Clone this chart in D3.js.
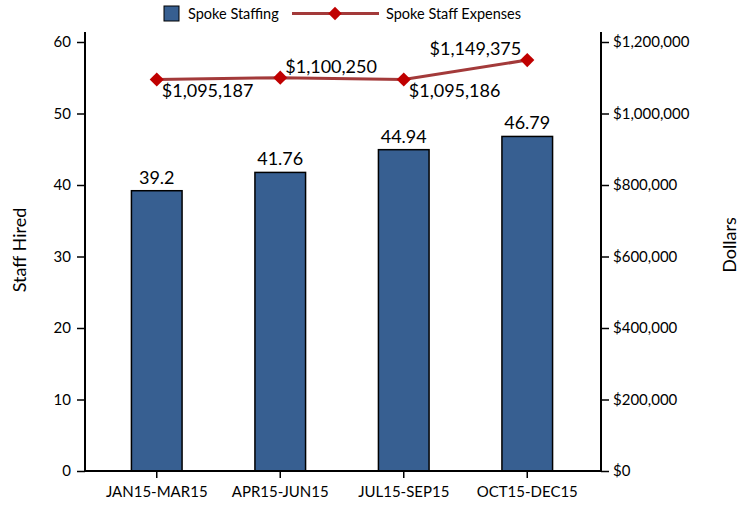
<!DOCTYPE html>
<html>
<head>
<meta charset="utf-8">
<script src="https://cdn.jsdelivr.net/npm/d3@7"></script>
<style>
  body { margin: 0; background: #fff; }
  svg { font-family: Lato, "Open Sans", sans-serif; }
</style>
</head>
<body>
<div id="chart"></div>
<script>
"use strict";

var quarters = ["JAN15-MAR15", "APR15-JUN15", "JUL15-SEP15", "OCT15-DEC15"];
var staffing = [39.2, 41.76, 44.94, 46.79];
var expenses = [1095187, 1100250, 1095186, 1149375];
// where each expense label sits relative to its point
var expenseLabelPos = ["below", "above", "below", "aboveLeft"];
var leftTicks = [0, 10, 20, 30, 40, 50, 60];
var rightTicks = [0, 200000, 400000, 600000, 800000, 1000000, 1200000];

var width = 752, height = 507,
  margin = { top: 42, right: 151, bottom: 36, left: 85 };

var barColor = "#375f91", lineColor = "#a33a3a", markerColor = "#c00000";

var svg = d3.select("#chart").append("svg")
  .attr("width", width).attr("height", height);

var x = d3.scaleBand().domain(quarters)
  .range([margin.left + 10, width - margin.right - 12]).paddingInner(0.59).paddingOuter(0.295);
var y = d3.scaleLinear().domain([0, 60]).range([height - margin.bottom, margin.top]);
var y2 = d3.scaleLinear().domain([0, 1200000]).range([height - margin.bottom, margin.top]);

var money = d3.format("$,");

// bars
svg.append("g").selectAll("rect").data(staffing).join("rect")
  .attr("x", (d, i) => x(quarters[i]))
  .attr("y", d => y(d))
  .attr("width", x.bandwidth())
  .attr("height", d => y(0) - y(d))
  .attr("fill", barColor)
  .attr("stroke", "#000").attr("stroke-width", 1.5);

svg.append("g").selectAll("text").data(staffing).join("text")
  .attr("x", (d, i) => x(quarters[i]) + x.bandwidth() / 2)
  .attr("y", d => y(d) - 7)
  .attr("text-anchor", "middle")
  .attr("font-size", 18)
  .text(d => d);

// axes
var axisLeft = svg.append("g").attr("transform", `translate(${margin.left},0)`)
  .call(d3.axisLeft(y).tickValues(leftTicks).tickSize(8).tickPadding(6));
var axisRight = svg.append("g").attr("transform", `translate(${width - margin.right},0)`)
  .call(d3.axisRight(y2).tickValues(rightTicks).tickSize(8).tickPadding(4).tickFormat(money));
var axisBottom = svg.append("g").attr("transform", `translate(0,${y(0)})`)
  .call(d3.axisBottom(x).tickSize(7).tickPadding(8).tickSizeOuter(0));

[axisLeft, axisRight, axisBottom].forEach(function (g) {
  g.selectAll(".domain").attr("stroke", "#000").attr("stroke-width", 2);
  g.selectAll(".tick line").attr("stroke", "#000").attr("stroke-width", 1.5);
  g.selectAll(".tick text").attr("font-size", 15).attr("fill", "#000")
    .attr("font-family", "Lato, 'Open Sans', sans-serif");
});
axisLeft.select(".domain").attr("d", `M0,${margin.top - 10}V${y(0)}`);
axisRight.select(".domain").attr("d", `M0,${margin.top - 10}V${y(0)}`);
axisBottom.select(".domain").attr("d", `M${margin.left},0H${width - margin.right}`);

// line
var cx = (d, i) => x(quarters[i]) + x.bandwidth() / 2;
svg.append("path").datum(expenses)
  .attr("fill", "none").attr("stroke", lineColor).attr("stroke-width", 3)
  .attr("d", d3.line().x(cx).y(d => y2(d)));

svg.append("g").selectAll("path").data(expenses).join("path")
  .attr("d", d3.symbol(d3.symbolSquare, 100)())
  .attr("transform", (d, i) => `translate(${cx(d, i)},${y2(d)}) rotate(45)`)
  .attr("fill", markerColor);

svg.append("g").selectAll("text").data(expenses).join("text")
  .attr("x", function (d, i) {
    var p = expenseLabelPos[i];
    return p === "aboveLeft" ? cx(d, i) - 6 : cx(d, i) + 5;
  })
  .attr("y", function (d, i) {
    var p = expenseLabelPos[i];
    return p === "below" ? y2(d) + 18 : y2(d) - 5;
  })
  .attr("text-anchor", (d, i) => expenseLabelPos[i] === "aboveLeft" ? "end" : "start")
  .attr("font-size", 18)
  .text(d => money(d));

// axis titles
svg.append("text")
  .attr("transform", "translate(26,250) rotate(-90)")
  .attr("text-anchor", "middle").attr("font-size", 18)
  .text("Staff Hired");
svg.append("text")
  .attr("transform", "translate(736,245) rotate(-90)")
  .attr("text-anchor", "middle").attr("font-size", 18)
  .text("Dollars");

// legend
var legend = svg.append("g").attr("font-size", 14.5);
legend.append("rect").attr("x", 164).attr("y", 6).attr("width", 15).attr("height", 15)
  .attr("fill", barColor).attr("stroke", "#000").attr("stroke-width", 1);
legend.append("text").attr("x", 188).attr("y", 18.5).text("Spoke Staffing");
legend.append("line").attr("x1", 292).attr("x2", 379).attr("y1", 13.5).attr("y2", 13.5)
  .attr("stroke", lineColor).attr("stroke-width", 3);
legend.append("path").attr("d", d3.symbol(d3.symbolSquare, 90)())
  .attr("transform", "translate(335,13.5) rotate(45)").attr("fill", markerColor);
legend.append("text").attr("x", 386).attr("y", 18.5).text("Spoke Staff Expenses");
</script>
</body>
</html>
